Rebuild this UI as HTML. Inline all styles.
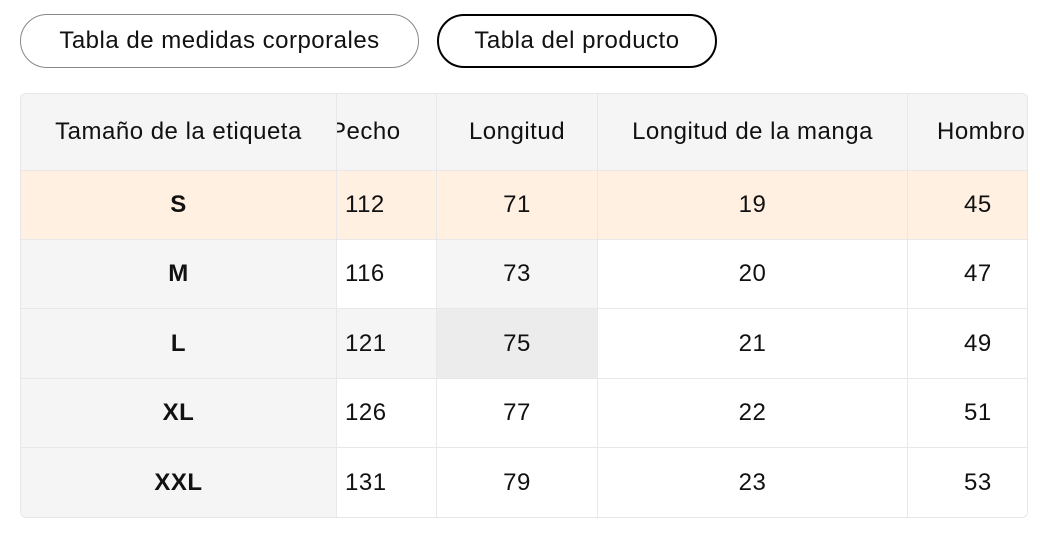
<!DOCTYPE html>
<html><head><meta charset="utf-8"><style>
body{margin:0;width:1040px;height:538px;background:#fff;font-family:"Liberation Sans",Helvetica,Arial,sans-serif;color:#111;position:relative;overflow:hidden}
.btn{position:absolute;top:14px;height:54px;box-sizing:border-box;border-radius:27px;font-size:24px;letter-spacing:0.5px;display:flex;align-items:center;justify-content:center}
.c{position:absolute;box-sizing:border-box;display:flex;align-items:center;justify-content:center;font-size:24px;letter-spacing:0.5px;border-right:1px solid #e8e8e8;border-bottom:1px solid #e8e8e8;overflow:hidden;white-space:nowrap}
</style></head><body>
<div class="btn" style="left:20px;width:399px;border:1px solid #888">Tabla de medidas corporales</div>
<div class="btn" style="left:437px;width:280px;border:2.5px solid #000">Tabla del producto</div>
<div style="position:absolute;left:20px;top:93px;width:1008px;height:425px;border:1px solid #e6e6e6;border-radius:6px;box-sizing:border-box;overflow:hidden">
<div id="t" style="position:relative;width:100%;height:100%"></div>
</div>
<script>
var cols=[[0,316],[316,100],[416,161],[577,310],[887,130]];
var rows=[[0,77],[77,69],[146,69],[215,70],[285,69],[354,70]];
var data=[["Tamaño de la etiqueta","Pecho","Longitud","Longitud de la manga","Hombro"],
["S","112","71","19","45"],["M","116","73","20","47"],["L","121","75","21","49"],["XL","126","77","22","51"],["XXL","131","79","23","53"]];
var h='';
for(var r=0;r<6;r++)for(var c=4;c>=0;c--){
 var bg='#fff';
 if(r==0)bg='#f5f5f6';else if(r==1)bg='#fff0e2';else if(c==0)bg='#f5f5f6';
 if(r==2&&c==2)bg='#f5f5f5';
 if(r==3&&c==1)bg='#f5f5f5';
 if(r==3&&c==2)bg='#ececec';
 var st='left:'+cols[c][0]+'px;top:'+rows[r][0]+'px;width:'+cols[c][1]+'px;height:'+rows[r][1]+'px;background:'+bg+';';
 if(c==1){st+='justify-content:flex-start;padding-left:'+(r==0?'0px;':'8px;');}
 if(c==4){st+='justify-content:flex-start;padding-left:'+(r==0?'29px;':'56px;');}
 if(c==0&&r>0)st+='font-weight:bold;';
 var txt=data[r][c];
 if(c==1&&r==0)txt='<span style="margin-left:-7px">Pecho</span>';
 h+='<div class="c" style="'+st+'">'+txt+'</div>';
}
document.getElementById('t').innerHTML=h;
</script>
</body></html>
